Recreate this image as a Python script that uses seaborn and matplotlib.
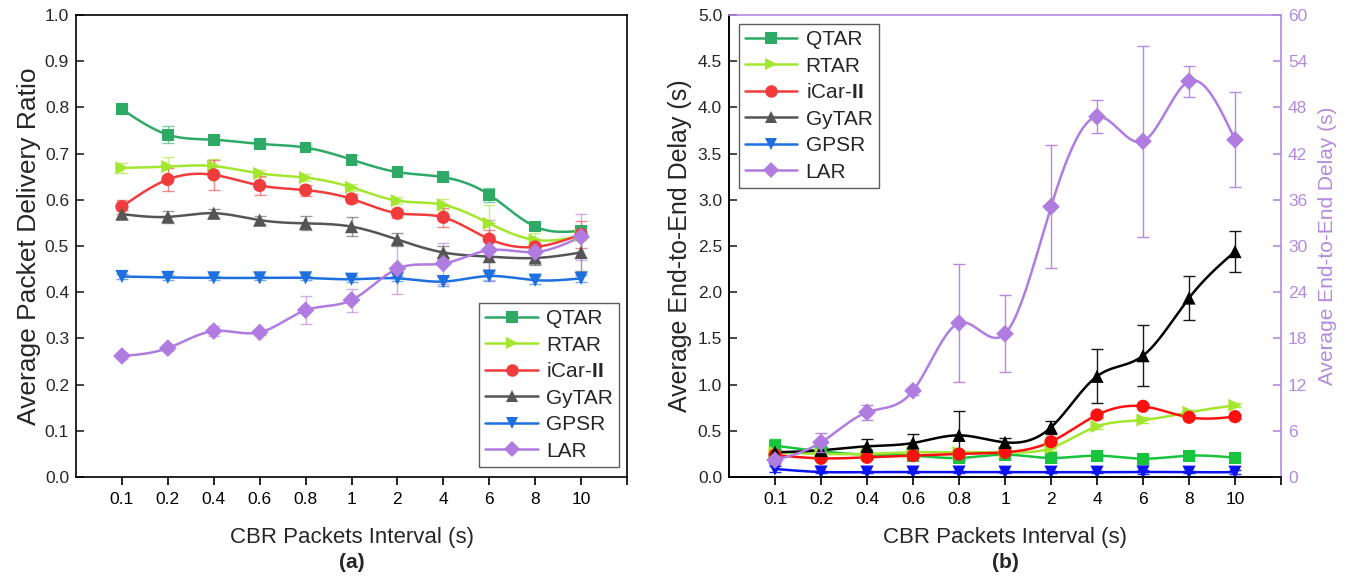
import numpy as np
import matplotlib
matplotlib.use("Agg")
import matplotlib.pyplot as plt
from matplotlib.lines import Line2D
import seaborn as sns

# Categories (x axis)
intervals = ["0.1", "0.2", "0.4", "0.6", "0.8", "1", "2", "4", "6", "8", "10"]
protocols = ["QTAR", "RTAR", "iCar-II", "GyTAR", "GPSR", "LAR"]

# (a) Packet delivery ratio
pdr_qtar = [0.796, 0.741, 0.730, 0.721, 0.713, 0.687, 0.660, 0.649, 0.611, 0.542, 0.533]
pdr_rtar = [0.669, 0.672, 0.673, 0.657, 0.648, 0.627, 0.598, 0.589, 0.549, 0.513, 0.522]
pdr_icar = [0.585, 0.644, 0.654, 0.631, 0.621, 0.602, 0.571, 0.562, 0.515, 0.498, 0.525]
pdr_gytar = [0.569, 0.563, 0.571, 0.556, 0.549, 0.542, 0.514, 0.486, 0.477, 0.474, 0.486]
pdr_gpsr = [0.434, 0.432, 0.431, 0.431, 0.431, 0.428, 0.430, 0.423, 0.435, 0.426, 0.430]
pdr_lar = [0.262, 0.279, 0.316, 0.313, 0.361, 0.383, 0.451, 0.462, 0.491, 0.487, 0.520]

pdr_qtar_err = [0.010, 0.018, 0.008, 0.006, 0.006, 0.010, 0.006, 0.006, 0.015, 0.008, 0.008]
pdr_rtar_err = [0.010, 0.020, 0.015, 0.008, 0.008, 0.008, 0.008, 0.012, 0.040, 0.015, 0.010]
pdr_icar_err = [0.015, 0.025, 0.032, 0.020, 0.012, 0.010, 0.010, 0.020, 0.020, 0.015, 0.030]
pdr_gytar_err = [0.010, 0.013, 0.010, 0.008, 0.015, 0.020, 0.015, 0.015, 0.035, 0.015, 0.040]
pdr_gpsr_err = [0.006, 0.006, 0.005, 0.005, 0.005, 0.006, 0.006, 0.010, 0.010, 0.008, 0.008]
pdr_lar_err = [0.006, 0.006, 0.010, 0.006, 0.030, 0.025, 0.055, 0.045, 0.065, 0.020, 0.050]

# (b) End-to-end delay (s); LAR on the right axis
delay_qtar = [0.339, 0.278, 0.242, 0.231, 0.206, 0.242, 0.206, 0.231, 0.198, 0.231, 0.209]
delay_rtar = [0.267, 0.250, 0.250, 0.267, 0.267, 0.267, 0.314, 0.548, 0.617, 0.700, 0.776]
delay_icar = [0.238, 0.202, 0.213, 0.231, 0.249, 0.267, 0.382, 0.671, 0.765, 0.646, 0.653]
delay_gytar = [0.267, 0.289, 0.332, 0.368, 0.451, 0.375, 0.537, 1.090, 1.313, 1.937, 2.440]
delay_gpsr = [0.087, 0.054, 0.053, 0.053, 0.053, 0.052, 0.052, 0.052, 0.055, 0.052, 0.052]
delay_lar = [2.2, 4.5, 8.4, 11.2, 20.0, 18.6, 35.1, 46.8, 43.6, 51.4, 43.8]

delay_qtar_err = [0.07, 0.03, 0.02, 0.02, 0.02, 0.02, 0.02, 0.02, 0.02, 0.02, 0.02]
delay_rtar_err = [0.03, 0.02, 0.02, 0.02, 0.02, 0.02, 0.03, 0.03, 0.03, 0.03, 0.02]
delay_icar_err = [0.02, 0.02, 0.02, 0.02, 0.03, 0.03, 0.03, 0.03, 0.02, 0.02, 0.02]
delay_gytar_err = [0.04, 0.04, 0.08, 0.10, 0.26, 0.05, 0.07, 0.29, 0.33, 0.24, 0.22]
delay_gpsr_err = [0.03, 0.01, 0.01, 0.01, 0.01, 0.01, 0.01, 0.01, 0.02, 0.01, 0.02]
delay_lar_err = [0.5, 1.2, 1.0, 0.5, 7.6, 5.0, 8.0, 2.1, 12.4, 2.0, 6.2]

markers = ["s", ">", "o", "^", "v", "D"]
colors_a = ["#2eaa66", "#a3e62e", "#f03c3c", "#555555", "#1e6fe0", "#b07ce0"]
colors_b = ["#17c43c", "#a3e62e", "#ff1010", "#000000", "#0a14f0", "#b07ce0"]
marker_size = [8.5, 9.5, 9.5, 9.5, 9.5, 9]
PURPLE = "#b48ae0"


def smooth(y, n=24):
    # natural cubic spline through the points, in category index space
    y = np.asarray(y, dtype=float)
    k = len(y)
    A = np.zeros((k, k))
    b = np.zeros(k)
    A[0, 0] = A[-1, -1] = 1
    for i in range(1, k - 1):
        A[i, i - 1:i + 2] = [1, 4, 1]
        b[i] = 6 * (y[i - 1] - 2 * y[i] + y[i + 1])
    m = np.linalg.solve(A, b)
    xs, ys = [], []
    for i in range(k - 1):
        t = np.linspace(0, 1, n, endpoint=False)
        ys.append((1 - t) * y[i] + t * y[i + 1]
                  + ((1 - t) ** 3 - (1 - t)) * m[i] / 6 + (t ** 3 - t) * m[i + 1] / 6)
        xs.append(i + t)
    xs.append([k - 1])
    ys.append([y[-1]])
    return np.concatenate(xs), np.concatenate(ys)


def draw_series(ax, y, err, color, marker, ms, ecolor, ealpha):
    x = np.arange(len(y))
    ax.errorbar(x, y, yerr=err, fmt="none", ecolor=ecolor, alpha=ealpha,
                elinewidth=1.0, capsize=4, capthick=1.0, zorder=2)
    xs, ys = smooth(y)
    sns.lineplot(x=xs, y=ys, ax=ax, color=color, linewidth=1.8, sort=False,
                 estimator=None, zorder=3)
    sns.scatterplot(x=x, y=y, ax=ax, color=color, marker=marker, s=ms ** 2,
                    edgecolor="none", linewidth=0, zorder=4)


sns.set_theme(style="ticks")
plt.rcParams["font.family"] = ["Liberation Sans", "DejaVu Sans"]
plt.rcParams["mathtext.fontset"] = "custom"
plt.rcParams["mathtext.rm"] = "Liberation Sans"
plt.rcParams["mathtext.bf"] = "Liberation Sans:bold"

fig = plt.figure(figsize=(13.61, 5.8), dpi=100)
ax1 = fig.add_axes([76 / 1361, 103 / 580, 551 / 1361, 462 / 580])
ax2 = fig.add_axes([729 / 1361, 103 / 580, 552 / 1361, 462 / 580])
ax3 = ax2.twinx()

labels = ["QTAR", "RTAR", "iCar-$\\mathbf{II}$", "GyTAR", "GPSR", "LAR"]

pdr = [pdr_qtar, pdr_rtar, pdr_icar, pdr_gytar, pdr_gpsr, pdr_lar]
pdr_err = [pdr_qtar_err, pdr_rtar_err, pdr_icar_err, pdr_gytar_err, pdr_gpsr_err, pdr_lar_err]
for i in range(len(protocols)):
    draw_series(ax1, pdr[i], pdr_err[i], colors_a[i], markers[i], marker_size[i],
                colors_a[i], 0.6)

delay = [delay_qtar, delay_rtar, delay_icar, delay_gytar, delay_gpsr]
delay_err = [delay_qtar_err, delay_rtar_err, delay_icar_err, delay_gytar_err, delay_gpsr_err]
for i in range(5):
    draw_series(ax2, delay[i], delay_err[i], colors_b[i], markers[i], marker_size[i],
                colors_b[i], 0.9)
draw_series(ax3, delay_lar, delay_lar_err, colors_b[5], markers[5], marker_size[5],
            colors_b[5], 0.9)

handles = [Line2D([0], [0], color=colors_a[i], marker=markers[i], lw=1.8,
                  markersize=marker_size[i] * 0.95, markeredgewidth=0)
           for i in range(len(protocols))]

tick_font = 12.5
xlabel_font = 16

for ax in (ax1, ax2):
    ax.set_xlim(-1, 11)
    ax.set_xticks(range(0, 12))
    ax.set_xticklabels(intervals + [""], fontsize=tick_font)
    ax.tick_params(axis="x", direction="out", length=6, width=1.2, colors="black", pad=5)
    ax.tick_params(axis="y", direction="in", length=6, width=1.2, labelsize=tick_font, pad=5)
    ax.set_xlabel("CBR Packets Interval (s)", fontsize=xlabel_font, labelpad=14)
    for s in ax.spines.values():
        s.set_linewidth(1.2)
        s.set_color("black")
    ax.set_ylabel("")

ax1.set_ylim(0, 1.0)
ax1.set_yticks(np.arange(0, 1.01, 0.1))
ax1.set_yticklabels([f"{v:.1f}" for v in np.arange(0, 1.01, 0.1)])
ax1.set_ylabel("Average Packet Delivery Ratio", fontsize=19, labelpad=3)

ax2.set_ylim(0, 5.0)
ax2.set_yticks(np.arange(0, 5.01, 0.5))
ax2.set_yticklabels([f"{v:.1f}" for v in np.arange(0, 5.01, 0.5)])
ax2.set_ylabel("Average End-to-End Delay (s)", fontsize=18, labelpad=4)

ax3.set_ylim(0, 60)
ax3.set_yticks(range(0, 61, 6))
ax3.tick_params(axis="y", direction="in", length=6, width=1.2, colors=PURPLE,
                labelsize=tick_font, pad=5)
ax3.set_ylabel("Average End-to-End Delay (s)", fontsize=15, color=PURPLE, labelpad=8)
for name, s in ax3.spines.items():
    s.set_linewidth(1.2)
    s.set_color("black")
ax3.spines["right"].set_color(PURPLE)
ax3.spines["top"].set_color(PURPLE)
ax2.spines["top"].set_visible(False)
ax2.spines["right"].set_visible(False)

legend_kw = dict(fontsize=15, frameon=True, fancybox=False, handlelength=2.5,
                 handletextpad=0.4, labelspacing=0.36, borderpad=0.3, borderaxespad=0)
leg1 = ax1.legend(handles, labels, loc="lower right",
                  bbox_to_anchor=(543 / 551, 10 / 462), **legend_kw)
leg3 = ax3.legend(handles, labels, loc="upper left",
                  bbox_to_anchor=(10 / 552, 453 / 462), **legend_kw)
for leg in (leg1, leg3):
    leg.get_frame().set_edgecolor("#333333")
    leg.get_frame().set_linewidth(1.0)

fig.text(352 / 1361, 1 - 563 / 580, "(a)", ha="center", va="center",
         fontsize=15, fontweight="bold")
fig.text(1005 / 1361, 1 - 563 / 580, "(b)", ha="center", va="center",
         fontsize=15, fontweight="bold")

fig.savefig("out.png", dpi=100)
